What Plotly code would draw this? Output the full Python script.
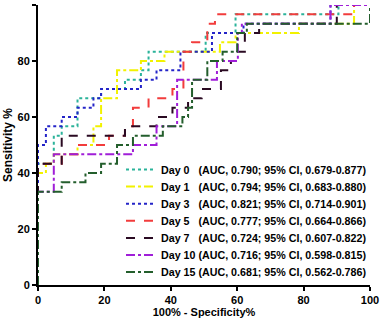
import plotly.graph_objects as go

# ROC step curves: each point = (1-specificity %, sensitivity %) at the right end of a horizontal run
day0_x = [0, 4.76, 7.14, 11.9, 19.0, 26.2, 31.0, 33.3, 50.5, 59.5, 90.5, 100]
day0_y = [0, 43.3, 53.3, 56.7, 66.7, 70.0, 73.3, 76.7, 83.3, 90.0, 96.7, 100]

day1_x = [0, 2.38, 4.76, 11.9, 16.7, 19.0, 23.8, 31.0, 38.1, 54.8, 59.5, 78.6, 95.2, 100]
day1_y = [0, 40.0, 43.3, 46.7, 50.0, 56.7, 66.7, 76.7, 80.0, 83.3, 86.7, 90.0, 93.3, 100]

day3_x = [0, 2.38, 7.14, 11.9, 16.7, 19.0, 31.0, 35.7, 42.9, 52.4, 61.9, 88.1, 100]
day3_y = [0, 50.0, 56.7, 60.0, 63.3, 66.7, 70.0, 73.3, 76.7, 83.3, 90.0, 93.3, 100]

day5_x = [0, 7.14, 11.9, 21.4, 26.2, 28.6, 33.3, 40.5, 43.8, 46.4, 51.0, 53.3, 95.2, 100]
day5_y = [0, 43.3, 46.7, 50.0, 53.3, 56.7, 63.3, 66.7, 70.0, 83.3, 86.7, 93.3, 96.7, 100]

day7_x = [0, 7.14, 26.2, 35.7, 40.5, 45.2, 49.3, 55.1, 58.1, 60.0, 62.3, 66.6, 90.0, 100]
day7_y = [0, 43.3, 53.3, 56.7, 60.0, 63.3, 66.7, 70.0, 76.7, 80.0, 83.3, 90.0, 93.3, 100]

day10_x = [0, 4.76, 28.6, 35.7, 41.9, 53.9, 60.2, 61.4, 88.1, 100]
day10_y = [0, 33.3, 46.7, 50.0, 56.7, 73.3, 80.0, 90.0, 93.3, 100]

day15_x = [0, 7.14, 14.3, 19.0, 23.8, 28.6, 37.6, 43.5, 45.2, 46.4, 51.0, 55.6, 60.0, 62.9, 100, 100]
day15_y = [0, 33.3, 36.7, 40.0, 43.3, 50.0, 53.3, 56.7, 60.0, 63.3, 73.3, 80.0, 83.3, 90.0, 93.3, 100]

labels = ["Day 0", "Day 1", "Day 3", "Day 5", "Day 7", "Day 10", "Day 15"]
auc_text = [
    "(AUC, 0.790; 95% CI, 0.679-0.877)",
    "(AUC, 0.794; 95% CI, 0.683-0.880)",
    "(AUC, 0.821; 95% CI, 0.714-0.901)",
    "(AUC, 0.777; 95% CI, 0.664-0.866)",
    "(AUC, 0.724; 95% CI, 0.607-0.822)",
    "(AUC, 0.716; 95% CI, 0.598-0.815)",
    "(AUC, 0.681; 95% CI, 0.562-0.786)",
]
xs = [day0_x, day1_x, day3_x, day5_x, day7_x, day10_x, day15_x]
ys = [day0_y, day1_y, day3_y, day5_y, day7_y, day10_y, day15_y]

colors = ["#2bb39a", "#f2f200", "#2424c8", "#f23c3c", "#2a0a22", "#a01ed8", "#235e2c"]
dashes = ["dot", "dashdot", "dot", "dash", "dash", "dashdot", "dashdot"]

FAM = "Liberation Sans, Arial, sans-serif"
font_b = dict(family=FAM, size=11, color="black", weight="bold")
leg_font = dict(size=10.7, weight="bold", family=FAM, color="black")

# page geometry: plot area x 38..370, y 5..285
L, R, T, B, W, H = 38, 10, 5, 35, 380, 320
plot_h = H - T - B

fig = go.Figure()
layout_legends = {}
for i, (lab, auc, x, y, c, d) in enumerate(zip(labels, auc_text, xs, ys, colors, dashes)):
    pad = "\u00a0\u00a0\u00a0" if len(lab) == 5 else " "
    key = "legend" if i == 0 else f"legend{i + 1}"
    fig.add_trace(go.Scatter(
        x=x, y=y, mode="lines", line_shape="vh",
        line=dict(color=c, width=2, dash=d),
        name=lab + pad + auc, legend=key,
    ))
    center_px = 169.5 + 17.1 * i
    layout_legends[key] = dict(
        x=0.25, y=(H - B - center_px) / plot_h, xanchor="left", yanchor="middle",
        bgcolor="rgba(0,0,0,0)", font=leg_font, itemwidth=30,
    )

fig.update_layout(
    width=W, height=H,
    margin=dict(l=L, r=R, t=T, b=B, autoexpand=False),
    plot_bgcolor="white", paper_bgcolor="white",
    font=font_b,
    showlegend=True,
    **layout_legends,
)
fig.update_xaxes(
    range=[0, 100], tickvals=[0, 20, 40, 60, 80, 100],
    showline=True, linecolor="black", linewidth=2,
    ticks="outside", ticklen=4, tickwidth=2, tickcolor="black",
    showgrid=False, zeroline=False, automargin=False,
    title=dict(text="100% - Specificity%", font=font_b, standoff=3),
    tickfont=font_b,
)
fig.update_yaxes(
    range=[0, 100], tickvals=[0, 20, 40, 60, 80, 100],
    showline=True, linecolor="black", linewidth=2,
    ticks="outside", ticklen=4, tickwidth=2, tickcolor="black",
    showgrid=False, zeroline=False, automargin=False,
    title=dict(text="Sensitivity %", font=dict(family=FAM, size=12, color="black", weight="bold"), standoff=2),
    tickfont=font_b,
)
fig.write_html("out.html", config={"displayModeBar": False},
               post_script="document.body.style.margin='0';")
